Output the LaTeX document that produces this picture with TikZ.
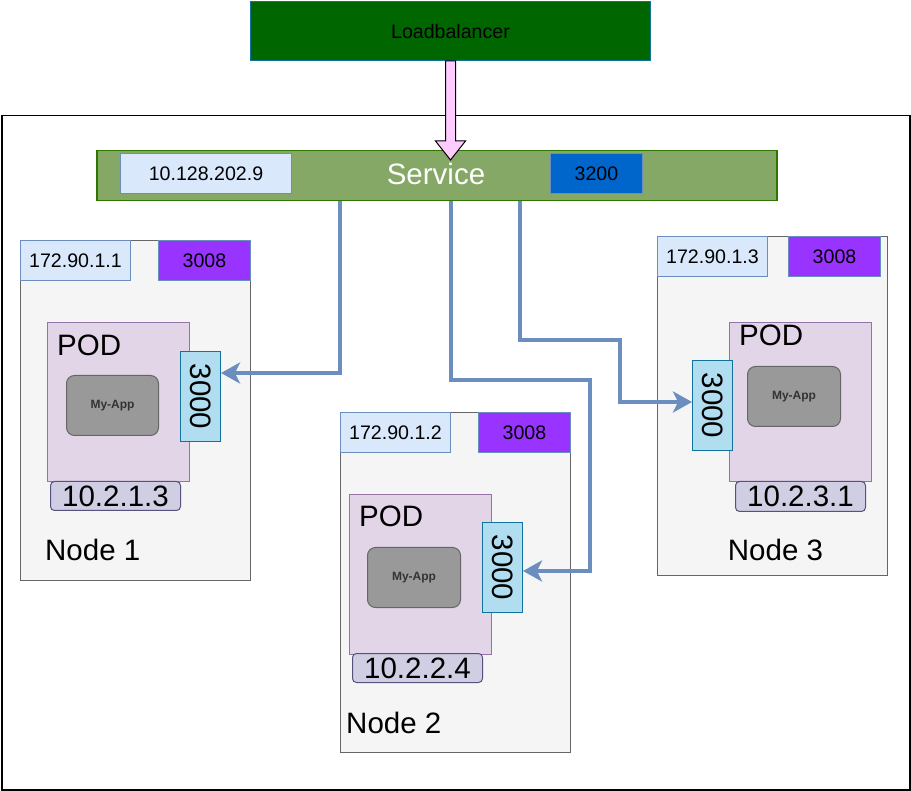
\documentclass[tikz,border=0pt]{standalone}
\usepackage{fontspec}
\setmainfont{Liberation Sans}
\usepackage{tikz}
\usetikzlibrary{positioning}
\usetikzlibrary{arrows.meta}

\definecolor{lbfill}{HTML}{006600}
\definecolor{lbline}{HTML}{10739E}
\definecolor{svcfill}{HTML}{86A866}
\definecolor{svcline}{HTML}{2D7600}
\definecolor{ipfill}{HTML}{DAE8FC}
\definecolor{ipline}{HTML}{6C8EBF}
\definecolor{svcblue}{HTML}{0066CC}
\definecolor{nodepurple}{HTML}{9933FF}
\definecolor{nodefill}{HTML}{F5F5F5}
\definecolor{nodeline}{HTML}{666666}
\definecolor{podfill}{HTML}{E1D5E7}
\definecolor{podline}{HTML}{9673A6}
\definecolor{appfill}{HTML}{999999}
\definecolor{apptext}{HTML}{333333}
\definecolor{tportfill}{HTML}{B1DDF0}
\definecolor{pipfill}{HTML}{D0CEE2}
\definecolor{pipline}{HTML}{56517E}
\definecolor{arrowpink}{HTML}{FFCCFF}
\definecolor{linkblue}{HTML}{6C8EBF}

\newcommand{\kfsmall}{\fontsize{19.6pt}{22pt}\selectfont}
\newcommand{\kfbig}{\fontsize{29.5pt}{34pt}\selectfont}
\newcommand{\kfapp}{\fontsize{12pt}{14pt}\selectfont\bfseries}

\begin{document}
\begin{tikzpicture}[x=1pt, y=-1pt,
    box/.style={draw, rectangle, anchor=north west, inner sep=0pt, line width=1pt},
    ipbox/.style={box, fill=ipfill, draw=ipline, minimum width=110pt, minimum height=40pt, font=\kfsmall},
    portbox/.style={box, fill=nodepurple, draw=ipline, minimum width=92pt, minimum height=40pt, font=\kfsmall},
    workerbox/.style={box, fill=nodefill, draw=nodeline, minimum width=230pt, minimum height=340pt},
    podbox/.style={box, fill=podfill, draw=podline, minimum width=142pt, minimum height=159pt},
    appbox/.style={box, rounded corners=8pt, fill=appfill, draw=nodeline, minimum width=92pt, minimum height=60pt, font=\kfapp, text=apptext},
    tportbox/.style={box, fill=tportfill, draw=lbline, minimum width=40pt, minimum height=90pt, font=\kfbig},
    pipbox/.style={box, rounded corners=4pt, fill=pipfill, draw=pipline, minimum width=130pt, minimum height=29pt, font=\kfbig},
    biglabel/.style={inner sep=0pt, font=\kfbig},
    link/.style={draw=linkblue, line width=4pt, -{Stealth[length=19pt, width=21pt, inset=5pt]}}]

    \useasboundingbox (0,0) rectangle (911,791);

    % Draw the cluster frame
    \node[draw, rectangle, anchor=north west, line width=1.5pt, minimum width=908pt, minimum height=674pt] (cluster) at (1,115) {};

    % Draw the loadbalancer
    \node[box, fill=lbfill, draw=lbline, minimum width=400pt, minimum height=59pt, font=\kfsmall] (lb) at (250,1) {Loadbalancer};

    % Draw the service bar
    \node[box, fill=svcfill, draw=svcline, line width=1.5pt, minimum width=680pt, minimum height=50pt] (svc) at (96,150) {};
    \node[font=\kfbig, text=white] (svcname) at (436,174) {Service};
    \node[ipbox, minimum width=171pt] (svcip) at (120,153) {10.128.202.9};
    \node[portbox, fill=svcblue] (svcport) at (550,153) {3200};

    % Draw the arrow from loadbalancer to service
    \draw[fill=arrowpink, line width=1pt] (lb.south) ++(-5,0) -- ++(0,80) -- ++(-10,0) -- ++(15,19) -- ++(15,-19) -- ++(-10,0) -- ++(0,-80) -- cycle;

    % Node 1
    \node[workerbox] (n1) at (20,240) {};
    \node[ipbox] (ip1) at (20,240) {172.90.1.1};
    \node[portbox] (np1) at (158,240) {3008};
    \node[podbox] (pod1) at (47,322) {};
    \node[biglabel, below right=13pt and 10pt of pod1.north west] (pod1name) {POD};
    \node[appbox] (app1) at (66,375) {My-App};
    \node[tportbox] (tp1) at (180,351) {\rotatebox{-90}{3000}\hspace{8pt}};
    \node[pipbox] (pip1) at (50,481) {10.2.1.3};
    \node[biglabel, above right=20pt and 25pt of n1.south west] (n1name) {Node 1};

    % Node 2
    \node[workerbox] (n2) at (340,412) {};
    \node[ipbox] (ip2) at (340,412) {172.90.1.2};
    \node[portbox] (np2) at (478,412) {3008};
    \node[podbox, minimum height=160pt] (pod2) at (349,494) {};
    \node[biglabel, below right=12pt and 10pt of pod2.north west] (pod2name) {POD};
    \node[appbox, minimum width=93pt] (app2) at (367,547) {My-App};
    \node[tportbox] (tp2) at (482,522) {\rotatebox{-90}{3000}\hspace{8pt}};
    \node[pipbox] (pip2) at (352,653) {10.2.2.4};
    \node[biglabel, above right=19pt and 6pt of n2.south west] (n2name) {Node 2};

    % Node 3
    \node[workerbox, minimum height=339pt] (n3) at (657,236) {};
    \node[ipbox] (ip3) at (657,236) {172.90.1.3};
    \node[portbox] (np3) at (788,236) {3008};
    \node[podbox] (pod3) at (729,322) {};
    \node[biglabel, below right=3pt and 10pt of pod3.north west] (pod3name) {POD};
    \node[appbox, minimum width=93pt] (app3) at (747,366) {My-App};
    \node[tportbox] (tp3) at (692,360) {\rotatebox{-90}{3000}\hspace{8pt}};
    \node[pipbox, minimum height=30pt] (pip3) at (735,481) {10.2.3.1};
    \node[biglabel, above=15pt of n3.south, xshift=3pt] (n3name) {Node 3};

    % Draw arrows from service to the target ports
    \draw[link] (svc.south -| 340,0) |- (tp1.east |- 0,373);
    \draw[link] (svc.south -| 451,0) |- (590,380) |- (tp2.east |- 0,571);
    \draw[link] (svc.south -| 520,0) |- (620,340) |- (tp3.west |- 0,402);
\end{tikzpicture}
\end{document}
